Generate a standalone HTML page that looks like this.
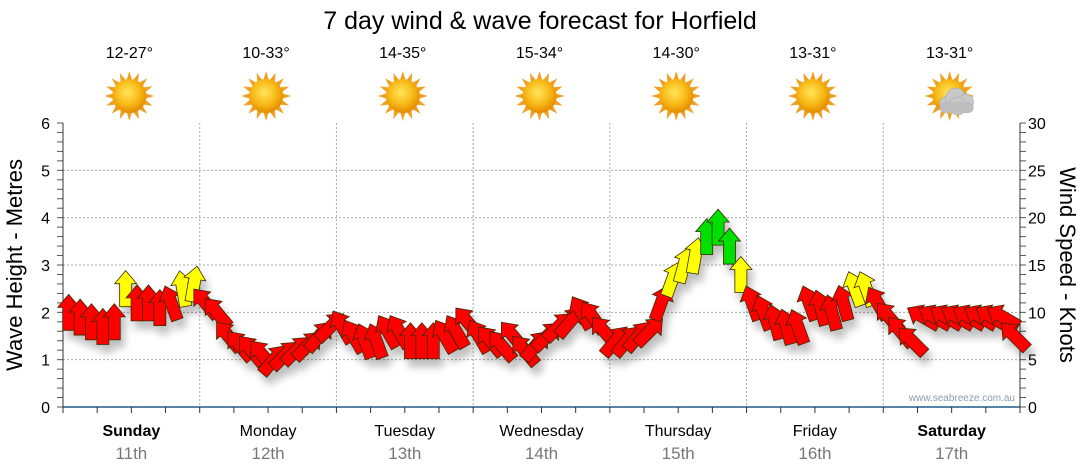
<!DOCTYPE html>
<html><head><meta charset="utf-8"><style>
body{margin:0;background:#fff;}
svg{display:block;font-family:"Liberation Sans",sans-serif;}
</style></head><body>
<svg id="chart" width="1080" height="475" viewBox="0 0 1080 475">
<defs>
<radialGradient id="sunG" cx="45%" cy="40%" r="60%"><stop offset="0" stop-color="#ffe65a"/><stop offset="0.6" stop-color="#f7b816"/><stop offset="1" stop-color="#e48a00"/></radialGradient>
<filter id="shadow" x="-50%" y="-50%" width="200%" height="200%"><feGaussianBlur in="SourceAlpha" stdDeviation="4"/><feOffset dx="4" dy="8"/><feComponentTransfer><feFuncA type="linear" slope="0.25"/></feComponentTransfer><feMerge><feMergeNode/><feMergeNode in="SourceGraphic"/></feMerge></filter>
</defs>
<text x="540" y="29" font-size="25" text-anchor="middle" fill="#000">7 day wind &amp; wave forecast for Horfield</text>
<g id="grid"></g><g id="axes"></g><g id="header"></g>
<g id="arrows" filter="url(#shadow)"></g>
<text x="1015" y="401" font-size="10" text-anchor="end" fill="#8a9bb0">www.seabreeze.com.au</text>
<text transform="translate(22,265) rotate(-90)" font-size="22" text-anchor="middle" fill="#000">Wave Height - Metres</text>
<text transform="translate(1060,265) rotate(90)" font-size="22" text-anchor="middle" fill="#000">Wind Speed - Knots</text>
</svg>
<script>
const days = ["Sunday","Monday","Tuesday","Wednesday","Thursday","Friday","Saturday"];
const dates = ["11th","12th","13th","14th","15th","16th","17th"];
const temps = ["12-27°","10-33°","14-35°","15-34°","14-30°","13-31°","13-31°"];
const weather = ["sun","sun","sun","sun","sun","sun","cloud"];
const waveTicks = [0,1,2,3,4,5,6];
const windTicks = [0,5,10,15,20,25,30];
const windSpeed = [
 10,9.5,9,8.5,9,12.5,11,11,10.5,11,12.5,13,
 11,10,7.5,6.5,6,5.5,5,5.5,6,6.5,7.5,8.5,
 8.5,7.5,7,7,8,8,7,7,7,7.5,8,9,
 7.5,7,6.5,7.5,6,6.5,7.5,8.5,9,10,9.5,8,
 7,7,7.5,8,11,13.5,15,16,18,19,17,14,
 11,10,9,8.5,8.5,11,10.5,10,11,12.5,12.5,11,
 9.5,8,7,9.5,9.5,9.5,9.5,9.5,9.5,9.5,9.5,7.5];
const windDir = [
 0,0,0,0,0,0,0,0,0,-20,-10,10,
 -40,-40,-40,-40,-40,-40,40,45,45,45,40,45,
 -30,-30,-20,-20,-30,-30,0,0,0,-30,-30,-40,
 -30,-40,-40,-40,-40,40,45,45,40,-30,-35,-40,
 40,40,40,45,20,20,15,10,0,0,0,0,
 -20,-20,-15,-15,-20,-20,-15,-15,-15,-20,-20,-30,
 -40,-40,-45,-60,-60,-60,-60,-60,-60,-60,-60,-45];
const NS="http://www.w3.org/2000/svg";
const X0=63,X1=1020,Y0=407,Y1=123;
const dayW=(X1-X0)/7;
const yWave=v=>Y0-(v/6)*(Y0-Y1);
const yWind=v=>Y0-(v/30)*(Y0-Y1);
const xIdx=i=>X0+(i+0.5)*(X1-X0)/windSpeed.length;
function mk(tag,attrs,parent){const e=document.createElementNS(NS,tag);for(const k in attrs)e.setAttribute(k,attrs[k]);parent.appendChild(e);return e;}
const grid=document.getElementById('grid'),axes=document.getElementById('axes'),hdr=document.getElementById('header'),arr=document.getElementById('arrows');
waveTicks.forEach(v=>{
 if(v>0&&v<6){const l=mk('line',{x1:X0,x2:X1,y1:yWave(v),y2:yWave(v),stroke:'#aaa','stroke-dasharray':'2,2'},grid);
 
 }
 const t=mk('text',{x:50,y:yWave(v)+6,'font-size':16,'text-anchor':'end',fill:'#000'},axes);t.textContent=v;
 
 
});
for(let m=0;m<=30;m++){const y=Y0-m*(Y0-Y1)/30;mk('line',{x1:X0-6,x2:X0,y1:y,y2:y,stroke:'#555'},axes);mk('line',{x1:X1,x2:X1+6,y1:y,y2:y,stroke:'#555'},axes);}
windTicks.forEach(v=>{const t=mk('text',{x:1028,y:yWind(v)+6,'font-size':16,fill:'#000'},axes);t.textContent=v;
 
 });
mk('line',{x1:X0,x2:X0,y1:Y1,y2:Y0,stroke:'#333'},axes);
mk('line',{x1:X1,x2:X1,y1:Y1,y2:Y0,stroke:'#333'},axes);
mk('line',{x1:X0,x2:X1,y1:Y0,y2:Y0,stroke:'#1f5a8a','stroke-width':1.5},axes);
for(let q=0;q<=28;q++){const x=X0+q*dayW/4;mk('line',{x1:x,x2:x,y1:Y0,y2:Y0+6,stroke:'#333'},axes);}
days.forEach((d,i)=>{
 const cx=X0+(i+0.5)*dayW;
 if(i>0){const l=mk('line',{x1:X0+i*dayW,x2:X0+i*dayW,y1:Y1,y2:Y0,stroke:'#aaa','stroke-dasharray':'2,2'},grid);
 
 }
 const w=(i==0||i==6);
 const t=mk('text',{x:cx,y:436,'font-size':16,'text-anchor':'middle',fill:'#000','font-weight':w?'bold':'normal'},axes);t.textContent=d;
 
 
 const t2=mk('text',{x:cx,y:459,'font-size':17,'text-anchor':'middle',fill:'#777'},axes);t2.textContent=dates[i];
 
 
 const t3=mk('text',{x:cx-2,y:58,'font-size':16,'text-anchor':'middle',fill:'#000'},hdr);t3.textContent=temps[i];
 
 
 const g=mk('g',{transform:`translate(${cx-2},96)`},hdr);
 
 
 for(let r=0;r<16;r++){const a=r*22.5;mk('polygon',{points:'-3,-15 0,-25 3,-15',fill:'#f0a020',transform:`rotate(${a})`},g);}
 mk('circle',{r:17,fill:'url(#sunG)'},g);
 if(weather[i]=='cloud'){
  const c=mk('g',{transform:'translate(6,6)'},g);
  [[-8,2,8],[0,-4,10],[10,0,8],[2,4,9]].forEach(p=>mk('circle',{cx:p[0],cy:p[1],r:p[2],fill:'#c8c8c8',stroke:'#a0a0a0','stroke-width':0.5},c));
  mk('rect',{x:-16,y:0,width:34,height:11,rx:5,fill:'#bdbdbd'},c);
 }
});
windSpeed.forEach((s,i)=>{
 const col=s>=17?'#00e000':(s>=12?'#ffff00':'#ff0000');
 const p=mk('polygon',{points:'0,-18 11,-5 6,-5 6,18 -6,18 -6,-5 -11,-5',fill:col,stroke:'#3a2a00','stroke-width':0.8,
  transform:`translate(${xIdx(i)},${yWind(s)}) rotate(${windDir[i]})`},arr);
 
 
});
</script>
</body></html>
